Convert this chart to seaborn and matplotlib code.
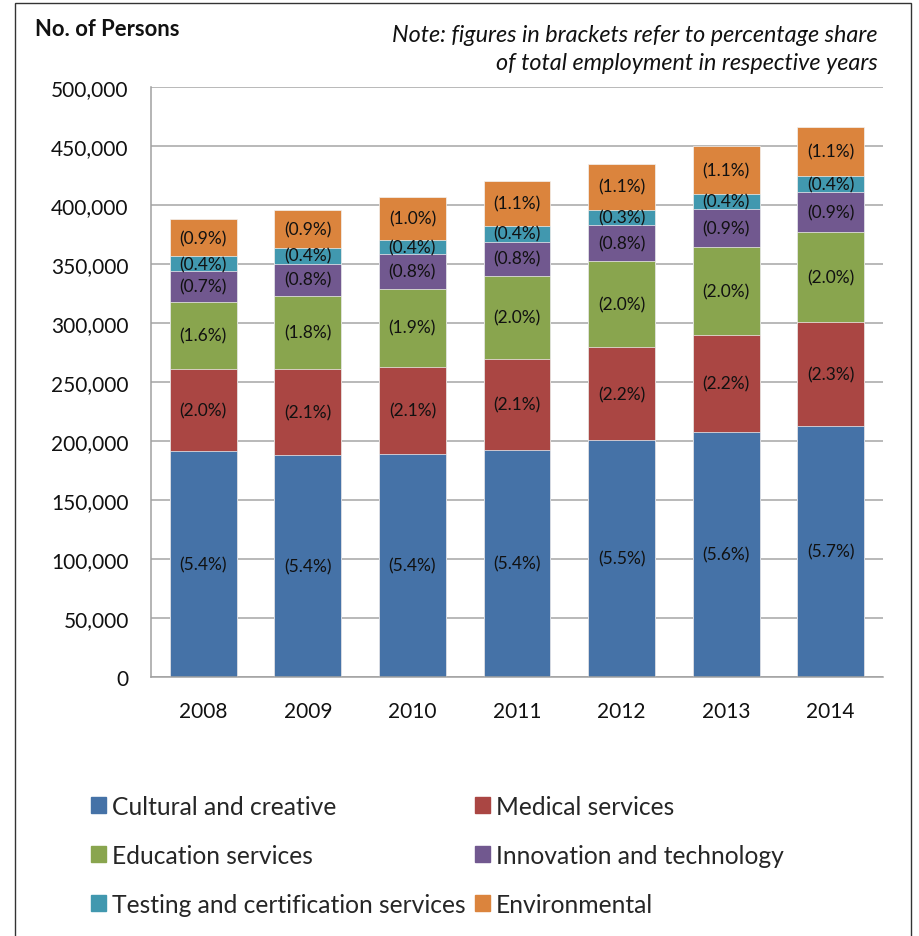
import numpy as np
import pandas as pd
import matplotlib.pyplot as plt
import matplotlib.patches as mpatches
import seaborn as sns

# data (number of persons)
years = ["2008", "2009", "2010", "2011", "2012", "2013", "2014"]
sectors = [
    "Cultural and creative",
    "Medical services",
    "Education services",
    "Innovation and technology",
    "Testing and certification services",
    "Environmental",
]
cultural = [191200, 188100, 189200, 192600, 200500, 207600, 213000]
medical = [69800, 72600, 73500, 76900, 78800, 81900, 87500]
education = [57000, 62400, 66400, 70600, 72900, 74900, 76600]
innovation = [25700, 27200, 29000, 28800, 30500, 31900, 33600]
testing = [12700, 13300, 12200, 13300, 13100, 13000, 13500]
environmental = [31400, 32200, 36100, 38400, 39200, 40700, 42200]

pct_cultural = ["5.4", "5.4", "5.4", "5.4", "5.5", "5.6", "5.7"]
pct_medical = ["2.0", "2.1", "2.1", "2.1", "2.2", "2.2", "2.3"]
pct_education = ["1.6", "1.8", "1.9", "2.0", "2.0", "2.0", "2.0"]
pct_innovation = ["0.7", "0.8", "0.8", "0.8", "0.8", "0.9", "0.9"]
pct_testing = ["0.4", "0.4", "0.4", "0.4", "0.3", "0.4", "0.4"]
pct_environmental = ["0.9", "0.9", "1.0", "1.1", "1.1", "1.1", "1.1"]

colors = ["#4572A7", "#AA4643", "#89A54E", "#71588F", "#4198AF", "#DB843D"]

values = [cultural, medical, education, innovation, testing, environmental]
pcts = [pct_cultural, pct_medical, pct_education, pct_innovation, pct_testing, pct_environmental]

sns.set_theme(style="white")
plt.rcParams["font.family"] = ["Lato", "DejaVu Sans"]

fig = plt.figure(figsize=(9.19, 9.37), dpi=100)
ax = fig.add_axes([151 / 919, 1 - 678 / 937, 732 / 919, 590 / 937])

# cumulative tops, drawn from the top segment down so each covers the one above
arr = np.array(values, dtype=float)
tops = arr.cumsum(axis=0)
bases = tops - arr
for k in range(len(sectors) - 1, -1, -1):
    df = pd.DataFrame({"year": years, "top": tops[k]})
    sns.barplot(data=df, x="year", y="top", color=colors[k], width=0.64,
                saturation=1, edgecolor="#f2f2f2", linewidth=0.5, ax=ax, zorder=2)

# percentage labels in the middle of each segment
for k in range(len(sectors)):
    for i in range(len(years)):
        ax.text(i, bases[k][i] + arr[k][i] / 2, f"({pcts[k][i]}%)",
                ha="center", va="center", fontsize=12.5, color="#111111", zorder=3)

ax.set_xlim(-0.5, 6.5)
ax.set_ylim(0, 500000)
ax.set_yticks(np.arange(0, 500001, 50000))
ax.yaxis.set_major_formatter(plt.FuncFormatter(lambda v, p: f"{int(v):,}"))
ax.set_xlabel("")
ax.set_ylabel("")
ax.tick_params(axis="y", length=0, pad=16, labelsize=15, labelcolor="#111111")
ax.tick_params(axis="x", length=0, pad=17, labelsize=15, labelcolor="#111111")
ax.grid(axis="y", color="#a6a6a6", linewidth=1.1, zorder=0)
ax.set_axisbelow(True)
for s in ["top", "right"]:
    ax.spines[s].set_visible(False)
for s in ["left", "bottom"]:
    ax.spines[s].set_color("#a0a0a0")
    ax.spines[s].set_linewidth(1.1)

fig.text(35 / 919, 1 - 30 / 937, "No. of Persons", fontsize=15.8, fontweight="bold",
         ha="left", va="center", color="#111111")
fig.text(878 / 919, 1 - 35 / 937, "Note: figures in brackets refer to percentage share",
         fontsize=16.8, style="italic", ha="right", va="center", color="#111111")
fig.text(878 / 919, 1 - 64 / 937, "of total employment in respective years",
         fontsize=16.8, style="italic", ha="right", va="center", color="#111111")

# legend, row-wise order in two columns
handles = [mpatches.Patch(color=c, label=s) for c, s in zip(colors, sectors)]
order = [0, 2, 4, 1, 3, 5]
fig.legend([handles[i] for i in order], [sectors[i] for i in order],
           loc="upper left", bbox_to_anchor=(91 / 919, 1 - 796 / 937), ncol=2,
           frameon=False, fontsize=17.7, handlelength=0.62, handleheight=0.62,
           handletextpad=0.25, labelspacing=1.05, columnspacing=0.35,
           borderpad=0, borderaxespad=0)

# outer frame of the chart area
fig.patches.append(mpatches.Rectangle((15 / 919, -0.05), 896 / 919, 1.05 - 4 / 937,
                                      transform=fig.transFigure, fill=False,
                                      edgecolor="#333333", linewidth=1))

fig.savefig("out.png", dpi=100)
